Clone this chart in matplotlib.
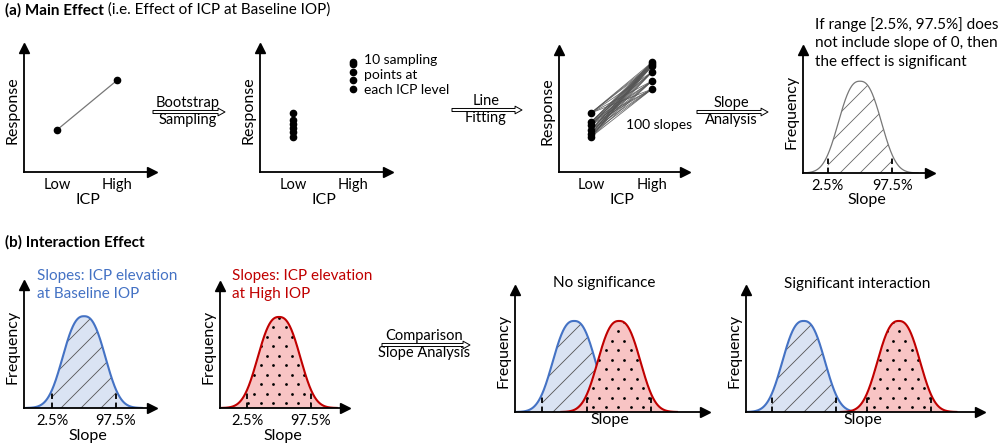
import numpy as np
import matplotlib
matplotlib.use('Agg')
import matplotlib.pyplot as plt
from matplotlib.patches import Polygon

plt.rcParams['font.family'] = ['Lato', 'DejaVu Sans']

W, H = 1000, 446
FS = 10.5      # tick labels
LFS = 11.5     # axis labels

# ---------------- data ----------------
icp_levels = ['Low', 'High']
p1_response = [3.4, 7.4]
p2_low = [4.76, 4.19, 3.87, 3.55, 3.23, 2.82]
p2_high = [8.9, 8.7, 8.06, 7.42, 6.69]
p3_low = [4.84, 4.10, 3.85, 3.44, 3.15, 2.87]
p3_high = [9.0, 8.85, 8.69, 8.2, 7.46, 6.8]

bell_scale = 1.6
bell_power = 2.5
main_mean = 3.43
b1_mean = 3.64
b2_mean = 3.58
b3_means = [3.58, 6.3]
b4_means = [3.5, 9.27]
pct_offset = 1.94
tail_offset = 3.5
pct_labels = ['2.5%', '97.5%']

BLUE, BLUE_F = '#4472C4', '#DAE3F3'
RED, RED_F = '#C00000', '#F8C4C4'

fig = plt.figure(figsize=(10, 4.46), dpi=100)
ov = fig.add_axes([0, 0, 1, 1])
ov.set_xlim(0, W)
ov.set_ylim(H, 0)
ov.axis('off')


def panel(l, t, r, b):
    ax = fig.add_axes([l / W, 1 - b / H, (r - l) / W, (b - t) / H])
    ax.patch.set_visible(False)
    ax.box_px = (l, t, r, b)
    for s in ('top', 'right'):
        ax.spines[s].set_visible(False)
    for s in ('left', 'bottom'):
        ax.spines[s].set_linewidth(1.3)
    ax.plot(1, 0, '>k', ms=6.5, transform=ax.transAxes, clip_on=False)
    ax.plot(0, 1, '^k', ms=6.5, transform=ax.transAxes, clip_on=False)
    ax.set_yticks([])
    ax.tick_params(length=0, labelsize=FS, pad=4)
    return ax


def shape(x, mu):
    return np.exp(-(np.abs(x - mu) / bell_scale) ** bell_power)


def region_poly(ax, xs, ys):
    return Polygon(np.column_stack([np.r_[xs, xs[::-1]], np.r_[ys, np.zeros_like(ys)]]),
                   closed=True, transform=ax.transData)


def hatch_lines(ax, poly, color, z, step=20):
    l, t, r, b = ax.box_px
    h = b - t
    for c in np.arange(l - h, r + 1, step):
        ln, = ax.plot([c, c + h], [b, t], color=color, lw=0.6, zorder=z,
                      transform=ov.transData)
        ln.set_clip_path(poly)


def hatch_dots(ax, poly, z, sx=12.5, sy=9.5):
    l, t, r, b = ax.box_px
    for i, yy in enumerate(np.arange(b - 5, t, -sy)):
        xx = np.arange(l + (sx / 2 if i % 2 else 0) + 3, r, sx)
        pts, = ax.plot(xx, np.full_like(xx, yy), 'o', color='k', ms=2.0, mew=0,
                       zorder=z, transform=ov.transData)
        pts.set_clip_path(poly)


def bell(ax, mu, line, fill, hcolor, kind, z, lw=1.5):
    x = np.linspace(mu - tail_offset, mu + tail_offset, 400)
    y = shape(x, mu)
    if fill is not None:
        ax.fill_between(x, y, facecolor=fill, lw=0, zorder=z)
    lo, hi = mu - pct_offset, mu + pct_offset
    m = (x >= lo) & (x <= hi)
    poly = region_poly(ax, x[m], y[m])
    if kind == 'lines':
        hatch_lines(ax, poly, hcolor, z + 0.1)
    else:
        hatch_dots(ax, poly, z + 0.1)
    ax.plot(x, y, color=line, lw=lw, zorder=z + 0.2)
    yl = shape(np.array([lo, hi]), mu)
    ax.vlines([lo, hi], 0, yl, colors='k', linestyles=(0, (3, 2)),
              lw=1.3, zorder=z + 0.3)
    return lo, hi


def dist_axes(l, t, r, b, xmax):
    ax = panel(l, t, r, b)
    ax.set_xlim(0, xmax)
    ax.set_ylim(0, 1.34)
    ax.set_xlabel('Slope', fontsize=LFS, labelpad=1)
    ax.set_ylabel('Frequency', fontsize=LFS, labelpad=3)
    return ax


# ---------------- titles ----------------
ta = ov.text(5, 10, '(a) Main Effect', fontsize=11, fontweight='bold',
             va='center', ha='left')
ov.annotate(' (i.e. Effect of ICP at Baseline IOP)', xy=(1, 0.5),
            xycoords=ta, va='center', ha='left', fontsize=11)
ov.text(5, 242, '(b) Interaction Effect', fontsize=11, fontweight='bold',
        va='center', ha='left')

# ---------------- panel a1 ----------------
a1 = panel(24, 48, 152, 172)
a1.set_xlim(-0.55, 1.58)
a1.set_ylim(0, 10)
a1.plot([0, 1], p1_response, color='#777777', lw=0.9)
a1.plot([0, 1], p1_response, 'o', color='k', ms=4.5)
a1.set_xticks([0, 1], icp_levels)
a1.set_xlabel('ICP', fontsize=LFS, labelpad=1)
a1.set_ylabel('Response', fontsize=LFS, labelpad=3)

# ---------------- panel a2 ----------------
a2 = panel(260, 48, 388, 172)
a2.set_xlim(-0.55, 1.583)
a2.set_ylim(0, 10)
a2.plot([0] * len(p2_low), p2_low, 'o', color='k', ms=4.5)
a2.plot([1] * len(p2_high), p2_high, 'o', color='k', ms=4.5)
a2.set_xticks([0, 1], icp_levels)
a2.set_xlabel('ICP', fontsize=LFS, labelpad=1)
a2.set_ylabel('Response', fontsize=LFS, labelpad=3)
ov.text(364, 54, '10 sampling\npoints at\neach ICP level', fontsize=10,
        va='top', ha='left', linespacing=1.3)

# ---------------- panel a3 ----------------
a3 = panel(559, 50, 685, 172)
a3.set_xlim(-0.525, 1.54)
a3.set_ylim(0, 10)
for lv in p3_low:
    for hv in p3_high:
        a3.plot([0, 1], [lv, hv], color='#555555', lw=0.6, alpha=0.85)
a3.plot([0] * len(p3_low), p3_low, 'o', color='k', ms=4.5)
a3.plot([1] * len(p3_high), p3_high, 'o', color='k', ms=4.5)
a3.set_xticks([0, 1], icp_levels)
a3.set_xlabel('ICP', fontsize=LFS, labelpad=1)
a3.set_ylabel('Response', fontsize=LFS, labelpad=3)
ov.text(626, 125, '100 slopes', fontsize=10, va='center', ha='left')

# ---------------- panel a4 ----------------
a4 = dist_axes(803, 50, 930, 173, 7.65)
lo, hi = bell(a4, main_mean, '#777777', None, '#666666', 'lines', 1, lw=0.9)
a4.set_xticks([lo, hi], pct_labels)
a4.set_xlabel('Slope', fontsize=LFS, labelpad=0)
ov.text(815, 17, 'If range [2.5%, 97.5%] does\nnot include slope of 0, then\nthe effect is significant',
        fontsize=11, va='top', ha='left', linespacing=1.4)

# ---------------- panel b1 ----------------
b1 = dist_axes(24, 285, 152, 408, 7.76)
lo, hi = bell(b1, b1_mean, BLUE, BLUE_F, '#555555', 'lines', 1)
b1.set_xticks([lo, hi], pct_labels)
ov.text(37, 269, 'Slopes: ICP elevation\nat Baseline IOP', color=BLUE,
        fontsize=11, va='top', ha='left', linespacing=1.4)

# ---------------- panel b2 ----------------
b2 = dist_axes(220, 286, 345, 408, 7.58)
lo, hi = bell(b2, b2_mean, RED, RED_F, 'k', 'dots', 1)
b2.set_xticks([lo, hi], pct_labels)
ov.text(232, 269, 'Slopes: ICP elevation\nat High IOP', color=RED,
        fontsize=11, va='top', ha='left', linespacing=1.4)

# ---------------- panel b3 ----------------
b3 = dist_axes(515, 290, 705, 412, 11.5)
bell(b3, b3_means[0], BLUE, BLUE_F, '#555555', 'lines', 1)
bell(b3, b3_means[1], RED, RED_F, 'k', 'dots', 2)
b3.set_xticks([])
ov.text(604, 283, 'No significance', fontsize=11, va='center', ha='center')

# ---------------- panel b4 ----------------
b4 = dist_axes(746, 290, 980, 412, 14.2)
bell(b4, b4_means[0], BLUE, BLUE_F, '#555555', 'lines', 1)
bell(b4, b4_means[1], RED, RED_F, 'k', 'dots', 2)
b4.set_xticks([])
ov.text(857, 284, 'Significant interaction', fontsize=11, va='center', ha='center')


# ---------------- process arrows ----------------
def process_arrow(x0, x1, y, top, bottom, cx):
    ov.annotate('', xy=(x1, y), xytext=(x0, y),
                arrowprops=dict(arrowstyle='simple,head_width=0.55,head_length=0.5,tail_width=0.22',
                                fc='white', ec='black', lw=0.7, shrinkA=0, shrinkB=0))
    ov.text(cx, y - 2, top, fontsize=10.5, ha='center', va='bottom')
    ov.text(cx, y + 1, bottom, fontsize=10.5, ha='center', va='top')


process_arrow(153, 225, 112, 'Bootstrap', 'Sampling', 188)
process_arrow(452, 522, 110, 'Line', 'Fitting', 486)
process_arrow(697, 768, 112, 'Slope', 'Analysis', 731)
process_arrow(382, 470, 345, 'Comparison', 'Slope Analysis', 424)

fig.savefig('out.png', dpi=100)
